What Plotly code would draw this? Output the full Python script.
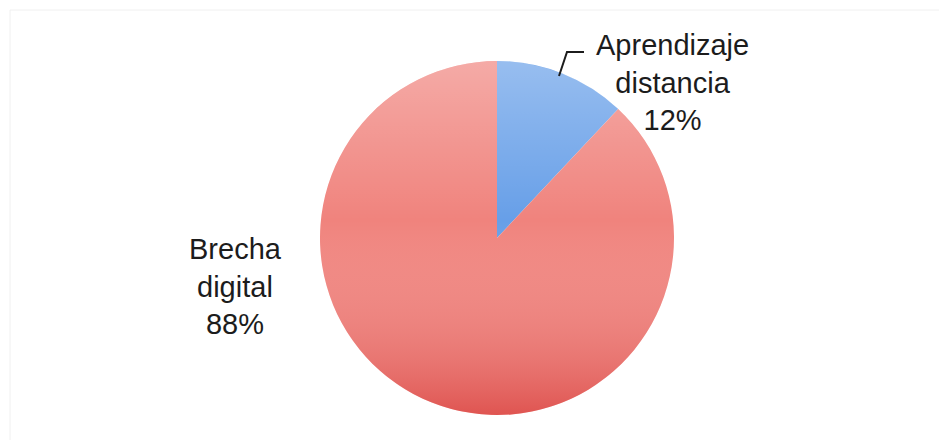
import base64
import plotly.graph_objects as go

# Data
labels = ["Aprendizaje<br>distancia", "Brecha<br>digital"]
values = [12, 88]
colors = ["#679fe8", "#f0837d"]

W, H = 939, 440
CX, CY, R = 497, 238, 177  # pie centre / radius in pixels


def px(x):
    return x / W


def py(y):
    return (H - y) / H


fig = go.Figure(
    go.Pie(
        labels=labels,
        values=values,
        sort=False,
        direction="clockwise",
        rotation=0,
        textinfo="none",
        hoverinfo="label+percent",
        marker=dict(colors=colors, line=dict(width=0)),
        domain=dict(x=[px(CX - R), px(CX + R)], y=[py(CY + R), py(CY - R)]),
        showlegend=False,
    )
)

# Soft vertical shading over the disc
svg = (
    '<svg xmlns="http://www.w3.org/2000/svg" width="200" height="200" viewBox="0 0 200 200">'
    '<defs><linearGradient id="g" x1="0" y1="0" x2="0" y2="1">'
    '<stop offset="0" stop-color="#ffffff" stop-opacity="0.32"/>'
    '<stop offset="0.45" stop-color="#ffffff" stop-opacity="0"/>'
    '<stop offset="1" stop-color="#c81414" stop-opacity="0.42"/>'
    '</linearGradient></defs>'
    '<circle cx="100" cy="100" r="100" fill="url(#g)"/></svg>'
)
src = "data:image/svg+xml;base64," + base64.b64encode(svg.encode()).decode()
fig.add_layout_image(
    dict(
        source=src,
        xref="paper", yref="paper",
        x=px(CX - R), y=py(CY - R),
        sizex=2 * R / W, sizey=2 * R / H,
        xanchor="left", yanchor="top",
        sizing="stretch",
        layer="above",
    )
)

font = dict(family="Arial, Liberation Sans, sans-serif", size=29, color="#1c1c1c")

# Slice labels with percentages
total = sum(values)
label_pos = [(672, 82), (235, 286)]
for lab, val, (lx, ly) in zip(labels, values, label_pos):
    fig.add_annotation(
        x=px(lx), y=py(ly), xref="paper", yref="paper",
        text=f"{lab}<br>{round(100 * val / total)}%",
        showarrow=False, align="center",
        xanchor="center", yanchor="middle", font=font,
    )

# Leader line for the small slice
fig.add_shape(
    type="path",
    xref="paper", yref="paper",
    path=f"M {px(559)},{py(76)} L {px(567)},{py(52)} L {px(584)},{py(52)}",
    line=dict(color="#1c1c1c", width=2),
)

# Faint chart frame
fig.add_shape(
    type="rect", xref="paper", yref="paper",
    x0=px(10), y0=-0.1, x1=1.1, y1=py(10),
    line=dict(color="#f0f0f0", width=1), fillcolor="rgba(0,0,0,0)",
)

fig.update_layout(
    width=W, height=H,
    margin=dict(l=0, r=0, t=0, b=0),
    paper_bgcolor="white",
    plot_bgcolor="white",
)

fig.write_html("out.html")
